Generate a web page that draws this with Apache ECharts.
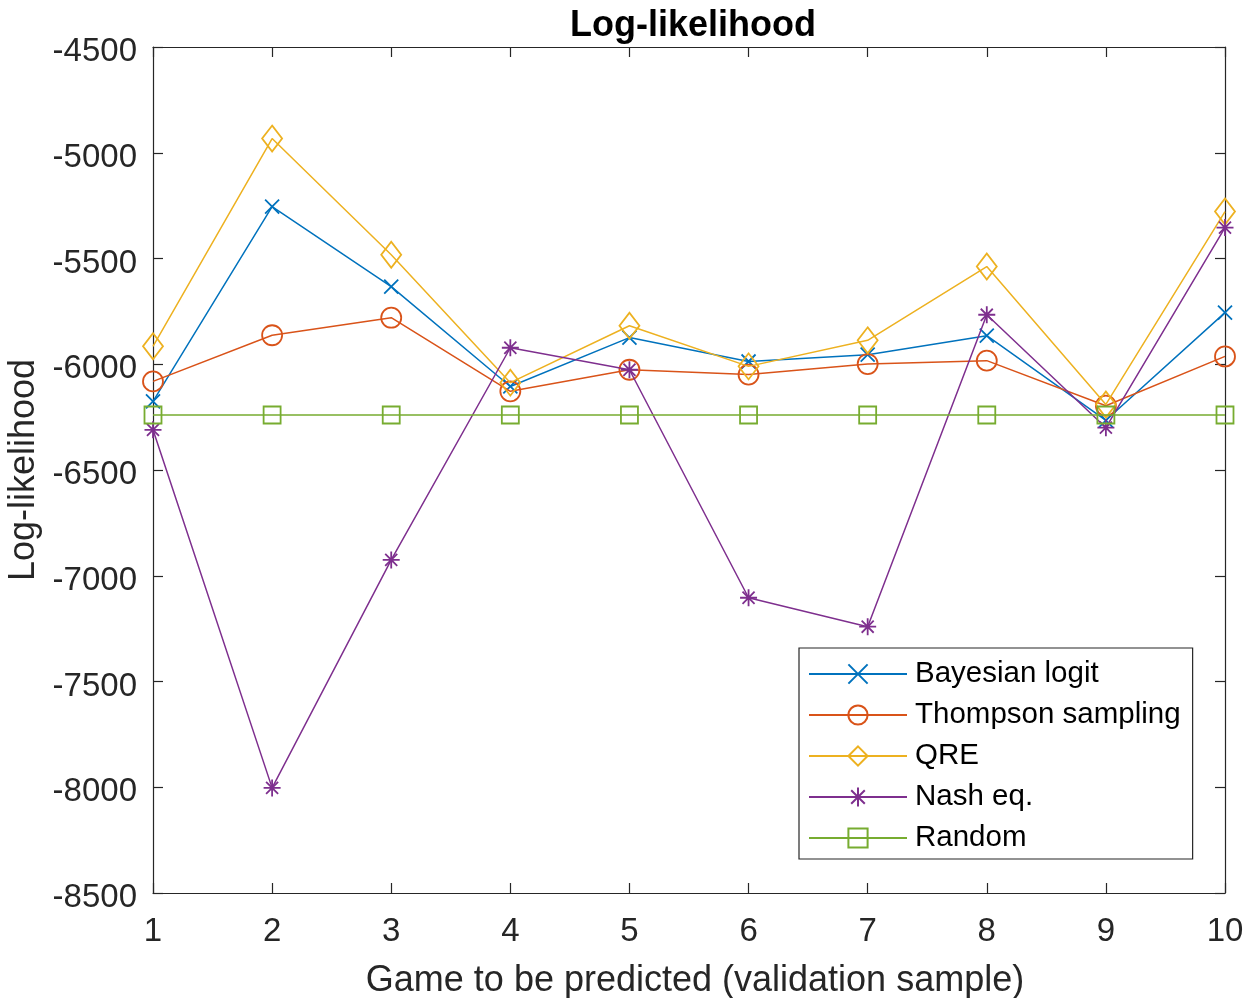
<!DOCTYPE html>
<html>
<head>
<meta charset="utf-8">
<script src="https://cdn.jsdelivr.net/npm/echarts@6/dist/echarts.min.js"></script>
<style>
html,body{margin:0;padding:0;background:#fff;}
#chart{width:1245px;height:998px;}
</style>
</head>
<body>
<div id="chart"></div>
<script>
const games = [1, 2, 3, 4, 5, 6, 7, 8, 9, 10];
const bayesianLogit = [-6176, -5255, -5633, -6105, -5874, -5987, -5955, -5865, -6265, -5756];
const thompsonSampling = [-6081, -5863, -5780, -6128, -6026, -6049, -5999, -5983, -6196, -5963];
const qre = [-5915, -4933, -5482, -6087, -5818, -6010, -5887, -5538, -6190, -5278];
const nashEq = [-6310, -8003, -6925, -5922, -6026, -7104, -7241, -5766, -6300, -5354];
const randomModel = [-6240, -6240, -6240, -6240, -6240, -6240, -6240, -6240, -6240, -6240];
const seriesNames = ['Bayesian logit', 'Thompson sampling', 'QRE', 'Nash eq.', 'Random'];
const yTicks = [-8500, -8000, -7500, -7000, -6500, -6000, -5500, -5000, -4500];

const FONT = '"Liberation Sans", Arial, Helvetica, sans-serif';
const AX = '#262626';
const colors = ['#0072BD', '#D95319', '#EDB120', '#7E2F8E', '#77AC30'];
const symbols = [
  'path://M0,0L10,10M10,0L0,10',
  'circle',
  'diamond',
  'path://M5,0L5,10M0,5L10,5M1.46,1.46L8.54,8.54M8.54,1.46L1.46,8.54',
  'rect'
];
const sizes = [14, 20, [20, 26], 17, 17];
const allData = [bayesianLogit, thompsonSampling, qre, nashEq, randomModel];

const chart = echarts.init(document.getElementById('chart'), null, {renderer: 'canvas'});

const series = allData.map((vals, i) => ({
  name: seriesNames[i],
  type: 'line',
  xAxisIndex: 0,
  yAxisIndex: 0,
  data: games.map((g, j) => [g, vals[j]]),
  symbol: symbols[i],
  symbolSize: sizes[i],
  showAllSymbol: true,
  lineStyle: {color: colors[i], width: 1.5},
  itemStyle: {color: 'none', borderColor: colors[i], borderWidth: 1.8},
  emphasis: {disabled: true},
  animation: false,
  z: 2 + i
}));

const axisCommon = {
  type: 'value',
  axisLine: {show: true, onZero: false, lineStyle: {color: AX, width: 1.2}},
  axisTick: {show: true, inside: true, length: 10, lineStyle: {color: AX, width: 1.2}},
  splitLine: {show: false}
};

chart.setOption({
  backgroundColor: '#ffffff',
  animation: false,
  title: {
    text: 'Log-likelihood',
    left: 688,
    textAlign: 'center',
    top: 3,
    textStyle: {fontFamily: FONT, fontWeight: 'bold', fontSize: 36, color: '#000'}
  },
  grid: {left: 153, right: 20, top: 47, bottom: 105, containLabel: false, outerBoundsMode: 'none'},
  xAxis: [
    Object.assign({}, axisCommon, {
      position: 'bottom',
      min: 1, max: 10, interval: 1,
      name: 'Game to be predicted (validation sample)',
      nameLocation: 'middle',
      nameGap: 70,
      nameTextStyle: {fontFamily: FONT, fontSize: 36, color: AX, padding: [0, 0, 0, 12]},
      axisLabel: {show: true, margin: 22, fontFamily: FONT, fontSize: 33, color: AX,
        formatter: v => String(v)}
    }),
    Object.assign({}, axisCommon, {
      position: 'top',
      min: 1, max: 10, interval: 1,
      axisLabel: {show: false}
    })
  ],
  yAxis: [
    Object.assign({}, axisCommon, {
      position: 'left',
      min: yTicks[0], max: yTicks[yTicks.length - 1], interval: 500,
      name: 'Log-likelihood',
      nameLocation: 'middle',
      nameGap: 110,
      nameRotate: 90,
      nameTextStyle: {fontFamily: FONT, fontSize: 36, color: AX},
      axisLabel: {show: true, margin: 16, fontFamily: FONT, fontSize: 33, color: AX,
        formatter: v => '{a|' + String(v) + '}',
        rich: {a: {fontFamily: FONT, fontSize: 33, color: AX, padding: [10, 0, 0, 0]}}}
    }),
    Object.assign({}, axisCommon, {
      position: 'right',
      min: yTicks[0], max: yTicks[yTicks.length - 1], interval: 500,
      axisLabel: {show: false}
    })
  ],
  legend: {
    show: true,
    orient: 'vertical',
    left: 799,
    top: 648,
    padding: [11, 12, 6, 9],
    itemWidth: 98,
    itemHeight: 24,
    itemGap: 11,
    backgroundColor: '#fff',
    borderColor: AX,
    borderWidth: 1.2,
    data: seriesNames,
    textStyle: {fontFamily: FONT, fontSize: 29.5, color: '#000', padding: [0, 0, 0, 3]}
  },
  series: series
});
</script>
</body>
</html>
